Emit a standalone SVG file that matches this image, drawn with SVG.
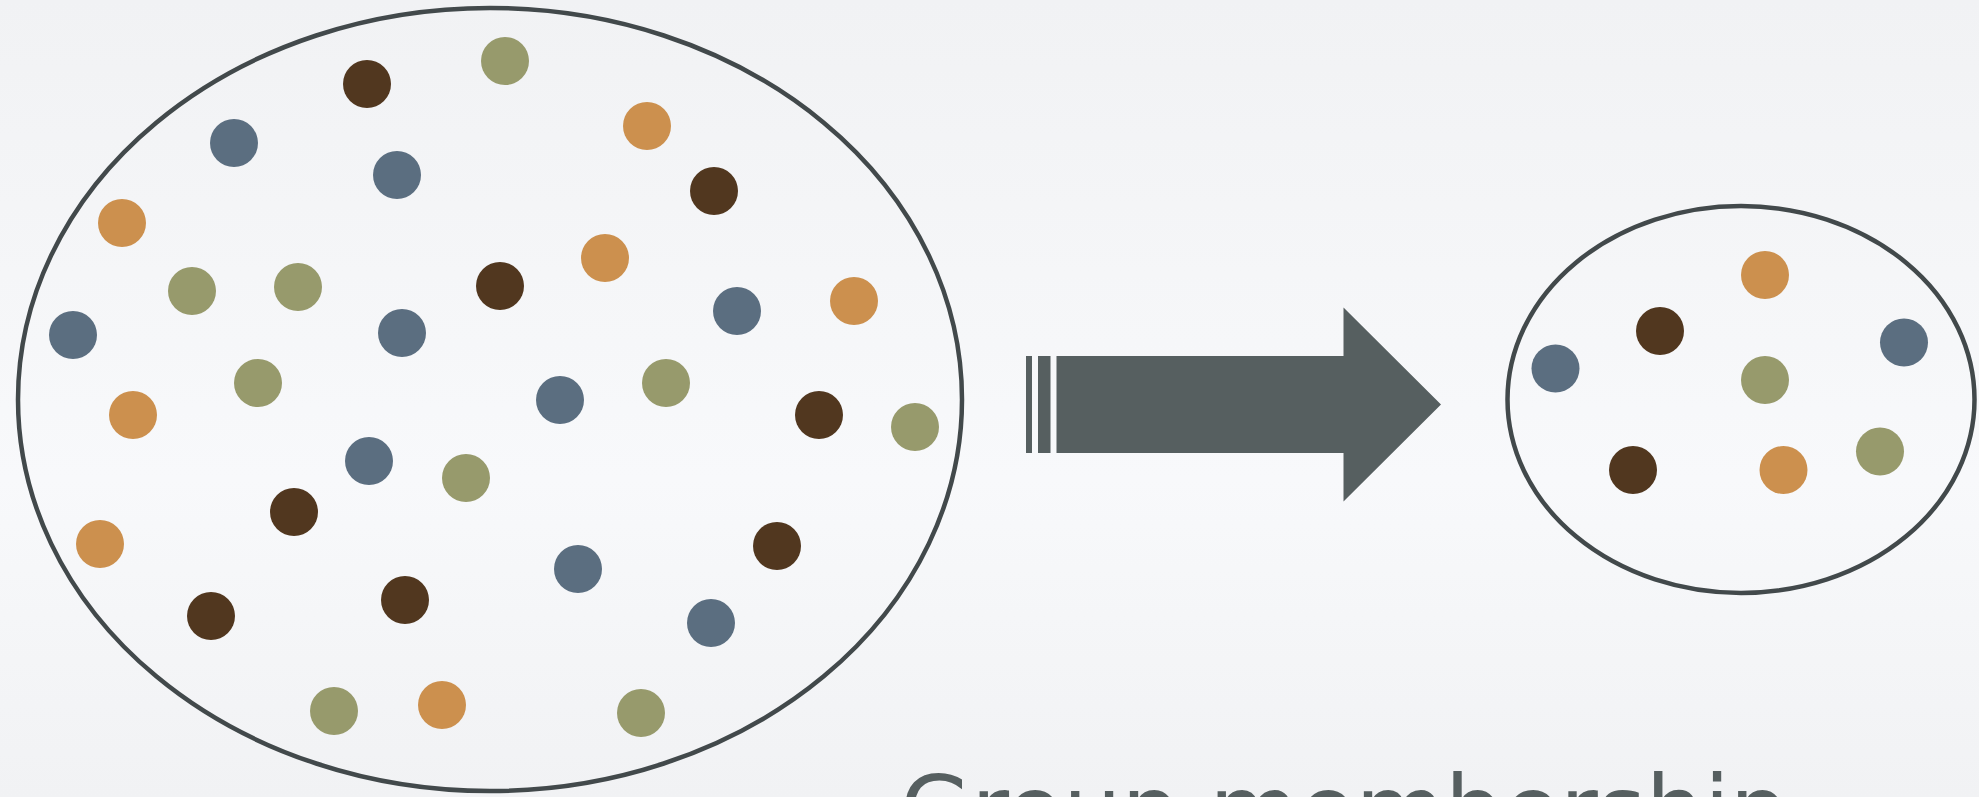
<svg xmlns="http://www.w3.org/2000/svg" width="1979" height="797" viewBox="0 0 1979 797">
  <defs>
    <linearGradient id="bg" x1="0" y1="0" x2="0" y2="1">
      <stop offset="0" stop-color="#f1f2f4"/>
      <stop offset="0.6" stop-color="#f8f9fb"/>
      <stop offset="1" stop-color="#f1f2f4"/>
    </linearGradient>
  </defs>
  <style>
    .ring { fill: none; stroke: #42494b; stroke-width: 4.5; }
    .br { fill: #51371f; }
    .ol { fill: #979a6c; }
    .or { fill: #cc904e; }
    .bl { fill: #5b6e80; }
    .arrow { fill: #565f60; }
    .label { font-family: "DejaVu Sans", sans-serif; font-size: 92px; fill: #565f60; }
  </style>
  <rect x="0" y="0" width="1979" height="797" fill="url(#bg)"/>

  <g id="population">
    <ellipse class="ring" cx="490" cy="399.5" rx="472" ry="391.5"/>
    <g id="population-dots">
      <circle class="br" cx="367" cy="84" r="24"/>
      <circle class="br" cx="714" cy="191" r="24"/>
      <circle class="br" cx="500" cy="286" r="24"/>
      <circle class="br" cx="819" cy="415" r="24"/>
      <circle class="br" cx="294" cy="512" r="24"/>
      <circle class="br" cx="777" cy="546" r="24"/>
      <circle class="br" cx="211" cy="616" r="24"/>
      <circle class="br" cx="405" cy="600" r="24"/>

      <circle class="ol" cx="505" cy="61" r="24"/>
      <circle class="ol" cx="192" cy="291" r="24"/>
      <circle class="ol" cx="298" cy="287" r="24"/>
      <circle class="ol" cx="258" cy="383" r="24"/>
      <circle class="ol" cx="666" cy="383" r="24"/>
      <circle class="ol" cx="915" cy="427" r="24"/>
      <circle class="ol" cx="466" cy="478" r="24"/>
      <circle class="ol" cx="334" cy="711" r="24"/>
      <circle class="ol" cx="641" cy="713" r="24"/>

      <circle class="or" cx="647" cy="126" r="24"/>
      <circle class="or" cx="122" cy="223" r="24"/>
      <circle class="or" cx="605" cy="258" r="24"/>
      <circle class="or" cx="854" cy="301" r="24"/>
      <circle class="or" cx="133" cy="415" r="24"/>
      <circle class="or" cx="100" cy="544" r="24"/>
      <circle class="or" cx="442" cy="705" r="24"/>

      <circle class="bl" cx="234" cy="143" r="24"/>
      <circle class="bl" cx="397" cy="175" r="24"/>
      <circle class="bl" cx="73" cy="335" r="24"/>
      <circle class="bl" cx="402" cy="333" r="24"/>
      <circle class="bl" cx="737" cy="311" r="24"/>
      <circle class="bl" cx="560" cy="400" r="24"/>
      <circle class="bl" cx="369" cy="461" r="24"/>
      <circle class="bl" cx="578" cy="569" r="24"/>
      <circle class="bl" cx="711" cy="623" r="24"/>
    </g>
  </g>

  <g id="connectors">
    <rect class="arrow" x="1026" y="356" width="6" height="97"/>
    <rect class="arrow" x="1038" y="356" width="12.5" height="97"/>
    <polygon class="arrow" points="1056.5,356 1343.5,356 1343.5,307.5 1441,404.5 1343.5,501.5 1343.5,453 1056.5,453"/>
  </g>

  <g id="sample">
    <ellipse class="ring" cx="1741" cy="399.5" rx="233.5" ry="193.5"/>
    <g id="sample-dots">
      <circle class="or" cx="1765" cy="275" r="24"/>
      <circle class="br" cx="1660" cy="331" r="24"/>
      <circle class="bl" cx="1555.5" cy="368.5" r="24"/>
      <circle class="ol" cx="1765" cy="380" r="24"/>
      <circle class="bl" cx="1904" cy="342.5" r="24"/>
      <circle class="br" cx="1633" cy="470" r="24"/>
      <circle class="or" cx="1783.5" cy="470" r="24"/>
      <circle class="ol" cx="1880" cy="451.5" r="24"/>
    </g>
  </g>

  <g id="caption">
    <text class="label" x="1344" y="842" text-anchor="middle">Group membership</text>
  </g>
</svg>
